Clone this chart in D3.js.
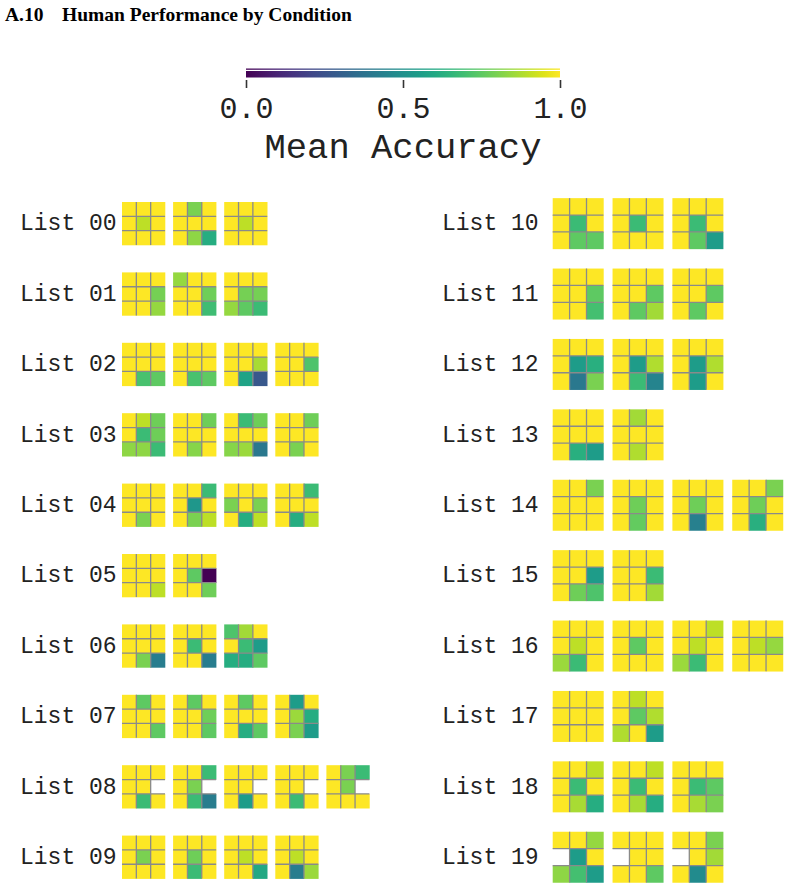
<!DOCTYPE html>
<html>
<head>
<meta charset="utf-8">
<script src="https://cdn.jsdelivr.net/npm/d3@7"></script>
<style>
  html, body { margin: 0; padding: 0; background: #fff; }
  svg { display: block; }
</style>
</head>
<body>
<svg id="chart" width="789" height="888"></svg>
<script>
// ---------- data (mean accuracy per cell, 3x3 grid row-major, null = no data) ----------
const listLabels = ["List 00","List 01","List 02","List 03","List 04","List 05","List 06","List 07","List 08","List 09",
                    "List 10","List 11","List 12","List 13","List 14","List 15","List 16","List 17","List 18","List 19"];
const Y = 1.0, N = null;
const list00 = [[Y,Y,Y, Y,0.9,Y, Y,Y,Y],[Y,0.8,Y, Y,Y,Y, Y,0.83,0.62],[Y,Y,Y, Y,0.9,Y, Y,Y,Y]];
const list01 = [[Y,Y,Y, Y,Y,0.79, Y,Y,0.84],[0.84,Y,Y, Y,Y,0.78, Y,Y,0.69],[Y,Y,Y, Y,0.79,0.79, 0.84,0.75,0.68]];
const list02 = [[Y,Y,Y, Y,Y,Y, Y,0.71,0.75],[Y,Y,Y, Y,Y,Y, Y,0.71,0.75],[Y,Y,Y, Y,Y,0.87, Y,0.58,0.27],[Y,Y,Y, Y,Y,0.72, Y,Y,Y]];
const list03 = [[Y,0.9,0.78, Y,0.68,0.78, 0.83,0.83,0.68],[Y,Y,0.78, Y,Y,Y, Y,0.82,Y],[Y,0.68,0.78, Y,Y,Y, 0.82,0.85,0.4],[Y,Y,0.78, Y,Y,Y, Y,0.8,Y]];
const list04 = [[Y,Y,Y, Y,Y,Y, Y,0.8,Y],[Y,Y,0.68, Y,0.53,Y, Y,0.8,0.9],[Y,Y,Y, 0.8,Y,0.8, Y,0.62,0.9],[Y,Y,0.68, Y,Y,Y, Y,0.62,0.9]];
const list05 = [[Y,Y,Y, Y,Y,Y, Y,Y,0.9],[Y,Y,Y, Y,0.75,0.0, Y,Y,0.78]];
const list06 = [[Y,Y,Y, Y,Y,Y, Y,0.8,0.42],[Y,Y,Y, Y,0.68,Y, Y,Y,0.42],[0.72,0.86,Y, Y,0.68,0.55, 0.62,0.62,0.75]];
const list07 = [[Y,0.75,Y, Y,Y,Y, Y,Y,0.75],[Y,0.75,Y, Y,Y,0.78, Y,Y,0.75],[Y,0.75,Y, Y,Y,Y, Y,0.62,0.75],[Y,0.55,Y, Y,0.85,0.62, Y,0.8,0.55]];
const list08 = [[Y,Y,Y, Y,Y,N, Y,0.68,Y],[Y,Y,0.68, Y,0.8,N, Y,0.68,0.42],[Y,Y,Y, Y,Y,N, Y,0.55,Y],[Y,Y,Y, Y,Y,N, Y,0.68,Y],[Y,0.8,0.68, Y,0.8,N, Y,Y,Y]];
const list09 = [[Y,Y,Y, Y,0.8,Y, Y,Y,Y],[Y,Y,Y, Y,0.78,Y, Y,0.68,Y],[Y,Y,Y, Y,0.9,Y, Y,Y,0.6],[Y,Y,Y, Y,0.9,Y, Y,0.42,0.85]];
const list10 = [[Y,Y,Y, Y,0.68,Y, Y,0.75,0.75],[Y,Y,Y, Y,0.68,Y, Y,Y,Y],[Y,Y,Y, Y,0.68,Y, Y,0.75,0.55]];
const list11 = [[Y,Y,Y, Y,Y,0.75, Y,Y,0.7],[Y,Y,Y, Y,Y,0.75, Y,0.75,0.86],[Y,Y,Y, Y,Y,0.75, Y,0.75,Y]];
const list12 = [[Y,Y,Y, Y,0.55,0.63, Y,0.4,0.8],[Y,Y,Y, Y,0.55,0.88, Y,0.68,0.45],[Y,Y,Y, Y,0.55,0.88, Y,0.55,Y]];
const list13 = [[Y,Y,Y, Y,Y,Y, Y,0.63,0.55],[Y,0.86,Y, Y,Y,Y, Y,0.88,Y]];
const list14 = [[Y,Y,0.8, Y,Y,Y, Y,Y,Y],[Y,Y,Y, Y,0.78,Y, Y,0.76,Y],[Y,Y,Y, Y,0.78,Y, Y,0.43,Y],[Y,Y,0.8, Y,0.78,Y, Y,0.63,Y]];
const list15 = [[Y,Y,Y, Y,Y,0.55, Y,0.78,0.72],[Y,Y,Y, Y,Y,0.68, Y,Y,0.86]];
const list16 = [[Y,Y,Y, Y,0.9,Y, 0.85,0.68,Y],[Y,Y,Y, Y,0.75,Y, Y,Y,Y],[Y,Y,0.9, Y,0.9,Y, 0.85,0.68,Y],[Y,Y,Y, Y,0.9,0.84, Y,Y,Y]];
const list17 = [[Y,Y,Y, Y,Y,Y, Y,Y,Y],[Y,0.9,Y, Y,0.75,0.88, 0.88,Y,0.55]];
const list18 = [[Y,Y,0.9, Y,0.68,Y, Y,0.87,0.62],[Y,Y,0.9, Y,0.68,Y, Y,0.87,0.62],[Y,Y,Y, Y,0.68,0.75, Y,0.87,0.8]];
const list19 = [[Y,Y,0.84, N,0.55,Y, 0.83,0.7,0.55],[Y,Y,Y, N,Y,Y, Y,Y,0.75],[Y,Y,0.8, N,Y,0.86, Y,0.48,Y]];
const colorbarTicks = [0, 0.5, 1.0];

const allLists = [list00,list01,list02,list03,list04,list05,list06,list07,list08,list09,
                  list10,list11,list12,list13,list14,list15,list16,list17,list18,list19];

// ---------- drawing ----------
const svg = d3.select("#chart");
const color = d3.scaleSequential(d3.interpolateViridis).domain([0, 1]);
const mono = "'Courier New', 'Liberation Mono', monospace";
const serif = "'Times New Roman', 'Liberation Serif', serif";

// title
svg.append("text").attr("x", 5).attr("y", 21)
  .attr("font-family", serif).attr("font-weight", "bold").attr("font-size", 19.5).attr("fill", "#000")
  .text("A.10");
svg.append("text").attr("x", 62).attr("y", 21)
  .attr("font-family", serif).attr("font-weight", "bold").attr("font-size", 19.5).attr("fill", "#000")
  .text("Human Performance by Condition");

// colorbar
const cbX = d3.scaleLinear().domain([0, 1]).range([246, 560]);
const defs = svg.append("defs");
const grad = defs.append("linearGradient").attr("id", "viridisGrad")
  .attr("x1", "0%").attr("x2", "100%").attr("y1", "0%").attr("y2", "0%");
d3.range(0, 1.0001, 0.05).forEach(t => {
  grad.append("stop").attr("offset", (t * 100) + "%").attr("stop-color", color(t));
});
svg.append("rect").attr("x", cbX(0)).attr("y", 68.5).attr("width", cbX(1) - cbX(0)).attr("height", 1.3)
  .attr("fill", "url(#viridisGrad)");
svg.append("rect").attr("x", cbX(0)).attr("y", 71).attr("width", cbX(1) - cbX(0)).attr("height", 6.5)
  .attr("fill", "url(#viridisGrad)");
const cbAxis = svg.append("g").attr("transform", "translate(0,80)")
  .call(d3.axisBottom(cbX).tickValues(colorbarTicks).tickFormat(d3.format(".1f")).tickSize(8).tickPadding(9));
cbAxis.select(".domain").remove();
cbAxis.selectAll(".tick line").attr("stroke", "#333").attr("stroke-width", 1.6);
cbAxis.selectAll(".tick text").attr("font-family", mono).attr("font-size", 30).attr("fill", "#222");
svg.append("text").attr("x", cbX(0.5)).attr("y", 158).attr("text-anchor", "middle")
  .attr("font-family", mono).attr("font-size", 35.5).attr("fill", "#222")
  .text("Mean Accuracy");

// panels
const rowY = d3.scaleLinear().domain([0, 9]).range([223.5, 223.5 + 9 * 70.4]);
const panels = [
  { lists: [0,1,2,3,4,5,6,7,8,9],      labelX: 20,  x0: 122,   pitch: 51.1, size: 43 },
  { lists: [10,11,12,13,14,15,16,17,18,19], labelX: 442, x0: 552.7, pitch: 59.85, size: 50.7 }
];

panels.forEach(p => {
  const gx = d3.scaleLinear().domain([0, 1]).range([p.x0, p.x0 + p.pitch]);
  const cell = d3.scaleBand().domain([0, 1, 2]).range([0, p.size]).padding(0);
  p.lists.forEach((li, r) => {
    const cy = rowY(r);
    svg.append("text").attr("x", p.labelX).attr("y", cy).attr("dy", "0.3em")
      .attr("font-family", mono).attr("font-size", 23).attr("fill", "#222")
      .text(listLabels[li]);
    allLists[li].forEach((vals, gi) => {
      const g = svg.append("g").attr("transform", `translate(${gx(gi)},${cy - p.size / 2})`);
      g.selectAll("rect").data(vals).join("rect")
        .attr("x", (d, i) => cell(i % 3))
        .attr("y", (d, i) => cell(Math.floor(i / 3)))
        .attr("width", cell.bandwidth() + 0.3)
        .attr("height", cell.bandwidth() + 0.3)
        .attr("fill", d => d == null ? "#ffffff" : color(d));
      [1, 2].forEach(k => {
        g.append("line").attr("x1", cell(k)).attr("x2", cell(k)).attr("y1", 0).attr("y2", p.size)
          .attr("stroke", "#8a8a8a").attr("stroke-width", 1.3);
        g.append("line").attr("y1", cell(k)).attr("y2", cell(k)).attr("x1", 0).attr("x2", p.size)
          .attr("stroke", "#8a8a8a").attr("stroke-width", 1.3);
      });
    });
  });
});
</script>
</body>
</html>
